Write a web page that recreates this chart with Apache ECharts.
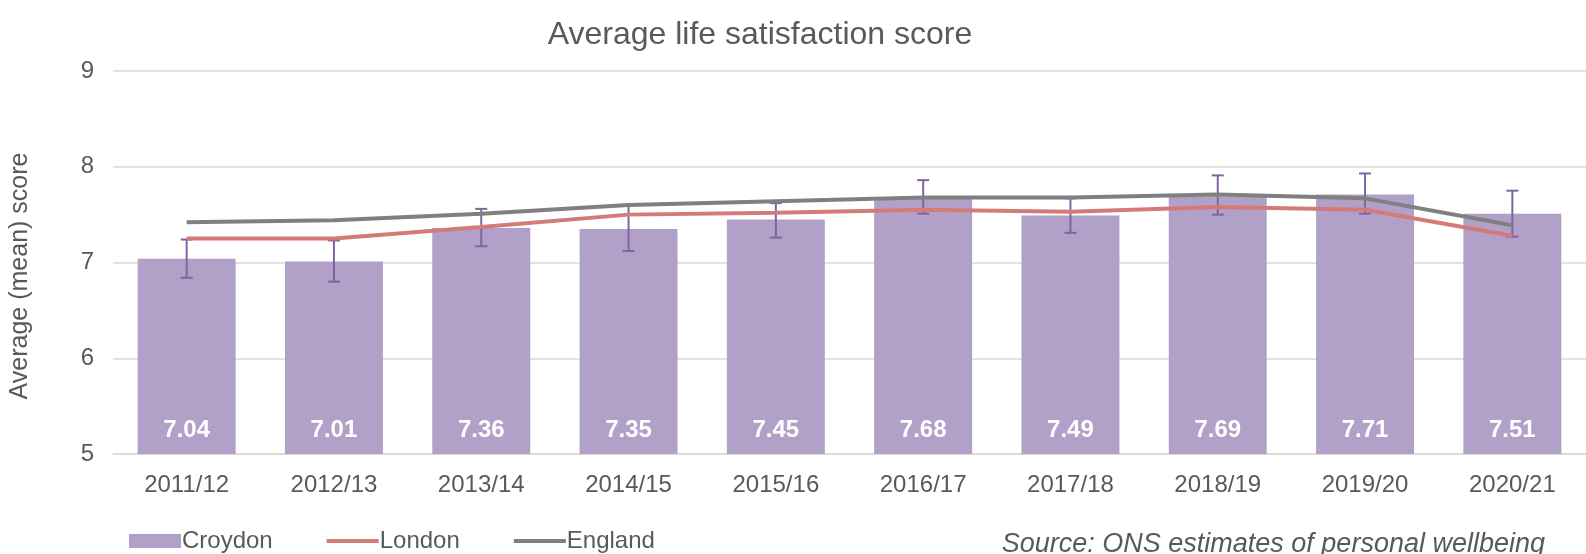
<!DOCTYPE html>
<html><head><meta charset="utf-8">
<script src="https://cdn.jsdelivr.net/npm/echarts@6/dist/echarts.min.js"></script>
<style>html,body{margin:0;padding:0;background:#fff}#c{width:1586px;height:554px}</style>
</head><body><div id="c"></div>
<script>
const categories = ['2011/12','2012/13','2013/14','2014/15','2015/16','2016/17','2017/18','2018/19','2019/20','2020/21'];
const croydon = [7.04,7.01,7.36,7.35,7.45,7.68,7.49,7.69,7.71,7.51];
const ciLow  = [6.84,6.80,7.17,7.12,7.26,7.51,7.31,7.50,7.51,7.27];
const ciHigh = [7.24,7.23,7.56,7.59,7.62,7.86,7.67,7.91,7.93,7.75];
const london = [7.25,7.25,7.37,7.50,7.52,7.55,7.53,7.58,7.55,7.28];
const england = [7.42,7.44,7.51,7.60,7.64,7.68,7.68,7.71,7.67,7.39];
const yTicks = [5,6,7,8,9];

const font = 'Liberation Sans, Arial, sans-serif';
const lineIcon = 'path://M0,0 L52,0 L52,4 L0,4 Z';
const chart = echarts.init(document.getElementById('c'), null, {renderer:'canvas'});
chart.setOption({
  animation:false,
  textStyle:{fontFamily:font},
  title:{text:'Average life satisfaction score', left:755, top:14, textAlign:'center',
    textStyle:{fontFamily:font, fontSize:32, fontWeight:'normal', color:'#595959'}},
  grid:{left:113, right:-4, top:71, bottom:100},
  legend:{left:124, top:524, itemWidth:52, itemHeight:14, itemGap:54, symbolKeepAspect:true,
    textStyle:{fontFamily:font, fontSize:24, color:'#595959', padding:[0,0,0,-4]},
    data:[{name:'Croydon', icon:'rect'},{name:'London', icon:lineIcon},{name:'England', icon:lineIcon}]},
  xAxis:{type:'category', data:categories,
    axisLine:{show:true, lineStyle:{color:'#D9D9D9', width:1.5}}, axisTick:{show:false},
    axisLabel:{fontFamily:font, fontSize:24, color:'#595959', margin:19}},
  yAxis:{type:'value', min:yTicks[0], max:yTicks[yTicks.length-1], interval:1,
    axisLine:{show:false}, axisTick:{show:false},
    axisLabel:{fontFamily:font, fontSize:24, color:'#595959', margin:19},
    splitLine:{lineStyle:{color:'#D9D9D9', width:1.5}}},
  series:[
    {name:'Croydon', type:'bar', data:croydon, barWidth:'66.5%',
      itemStyle:{color:'#B1A0C7'},
      label:{show:true, position:'insideBottom', distance:12, formatter:p=>p.value.toFixed(2),
        fontFamily:font, fontSize:24, fontWeight:'bold', color:'#ffffff'}, z:2},
    {name:'London', type:'line', data:london, symbol:'none', showSymbol:false,
      lineStyle:{color:'#D47B79', width:4}, itemStyle:{color:'#D47B79'}, z:4},
    {name:'England', type:'line', data:england, symbol:'none', showSymbol:false,
      lineStyle:{color:'#808080', width:4}, itemStyle:{color:'#808080'}, z:5},
    {name:'CI', type:'custom', z:3,
      data:categories.map((c,i)=>[i, ciLow[i], ciHigh[i]]),
      renderItem:function(params, api){
        const lo = api.coord([api.value(0), api.value(1)]);
        const hi = api.coord([api.value(0), api.value(2)]);
        const x = lo[0], hw = 6;
        const st = {stroke:'#8064A2', lineWidth:2};
        return {type:'group', children:[
          {type:'line', shape:{x1:x, y1:hi[1], x2:x, y2:lo[1]}, style:st},
          {type:'line', shape:{x1:x-hw, y1:hi[1], x2:x+hw, y2:hi[1]}, style:st},
          {type:'line', shape:{x1:x-hw, y1:lo[1], x2:x+hw, y2:lo[1]}, style:st}
        ]};
      }}
  ],
  graphic:[
    {type:'text', x:1545, y:544,
      style:{text:'Source: ONS estimates of personal wellbeing', fontFamily:font, fontSize:27,
        fontStyle:'italic', fill:'#595959', textAlign:'right', textVerticalAlign:'middle'}},
    {type:'text', x:20, y:276, rotation:Math.PI/2,
      style:{text:'Average (mean) score', fontFamily:font, fontSize:25,
        fill:'#595959', textAlign:'center', textVerticalAlign:'middle'}}
  ]
});
</script></body></html>
